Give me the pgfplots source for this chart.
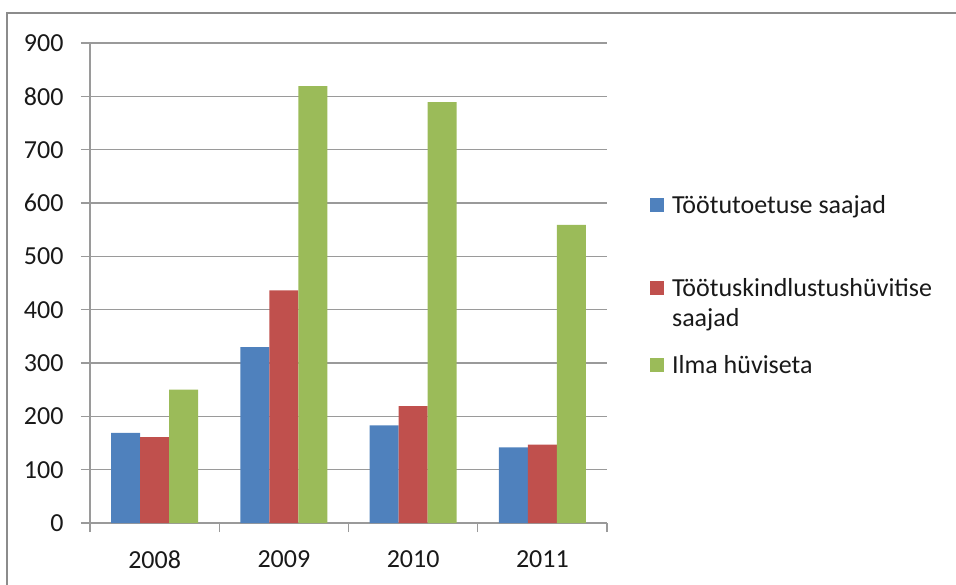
\documentclass[border=0pt]{standalone}
\usepackage{pgfplots}
\pgfplotsset{compat=1.18}
\usepackage{fontspec}
\setmainfont{Carlito}
\definecolor{cblue}{HTML}{4F81BD}
\definecolor{cred}{HTML}{C0504D}
\definecolor{cgreen}{HTML}{9BBB59}
\definecolor{axisgray}{HTML}{9A9A9A}
\definecolor{framegray}{HTML}{8C8C8C}

\begin{document}
\begin{tikzpicture}[x=1pt,y=1pt,font=\fontsize{26}{30}\selectfont]
\useasboundingbox (0,0) rectangle (956,-584);
\begin{scope}
  \clip (0,0) rectangle (956,-584);
  \draw[line width=2pt, framegray] (7,-13) rectangle (1000,-650);
\end{scope}
\begin{axis}[
    at={(90pt,-523pt)}, anchor=south west,
    scale only axis, width=517pt, height=480pt,
    ymin=0, ymax=900, ytick={0,100,...,900},
    xmin=-0.5, xmax=3.5,
    xtick={-0.5,0.5,1.5,2.5,3.5},
    x tick label as interval,
    xticklabels={2008,2009,2010,2011},
    axis x line*=bottom, axis y line*=left,
    axis line style={axisgray, line width=1.3pt},
    ymajorgrids, grid style={axisgray, line width=1.3pt},
    tick style={axisgray, line width=1.3pt},
    major tick length=9pt, tick align=outside,
    /pgf/number format/assume math mode=true,
    tick label style={font=\fontsize{26}{30}\selectfont, text=black!90},
    yticklabel style={xshift=-14pt},
    xticklabel style={yshift=-15pt},
    ybar=0pt, bar width=29pt,
    legend style={
        at={(1.083,0.690)}, anchor=north west,
        draw=none, fill=none, inner sep=0pt,
        row sep=17pt, column sep=8pt,
        font=\fontsize{26}{30}\selectfont,
        nodes={inner sep=0pt, anchor=base west, text depth=, text height=, text=black!90},
    },
    legend image code/.code={\fill[#1] (0pt,1pt) rectangle (14pt,15pt);},
]
\addplot[fill=cblue, draw=none] coordinates {(0,169) (1,330) (2,183) (3,142)};
\addplot[fill=cred, draw=none] coordinates {(0,161) (1,436) (2,219) (3,147)};
\addplot[fill=cgreen, draw=none] coordinates {(0,250) (1,819) (2,789) (3,559)};
\addlegendentry{\strut Töötutoetuse saajad\rule[-45pt]{0pt}{0pt}}
\addlegendentry{{\begin{tabular}[t]{@{}l@{}}Töötuskindlustushüvitise\\saajad\end{tabular}}}
\addlegendentry{\strut Ilma hüviseta}
\end{axis}
\end{tikzpicture}
\end{document}
